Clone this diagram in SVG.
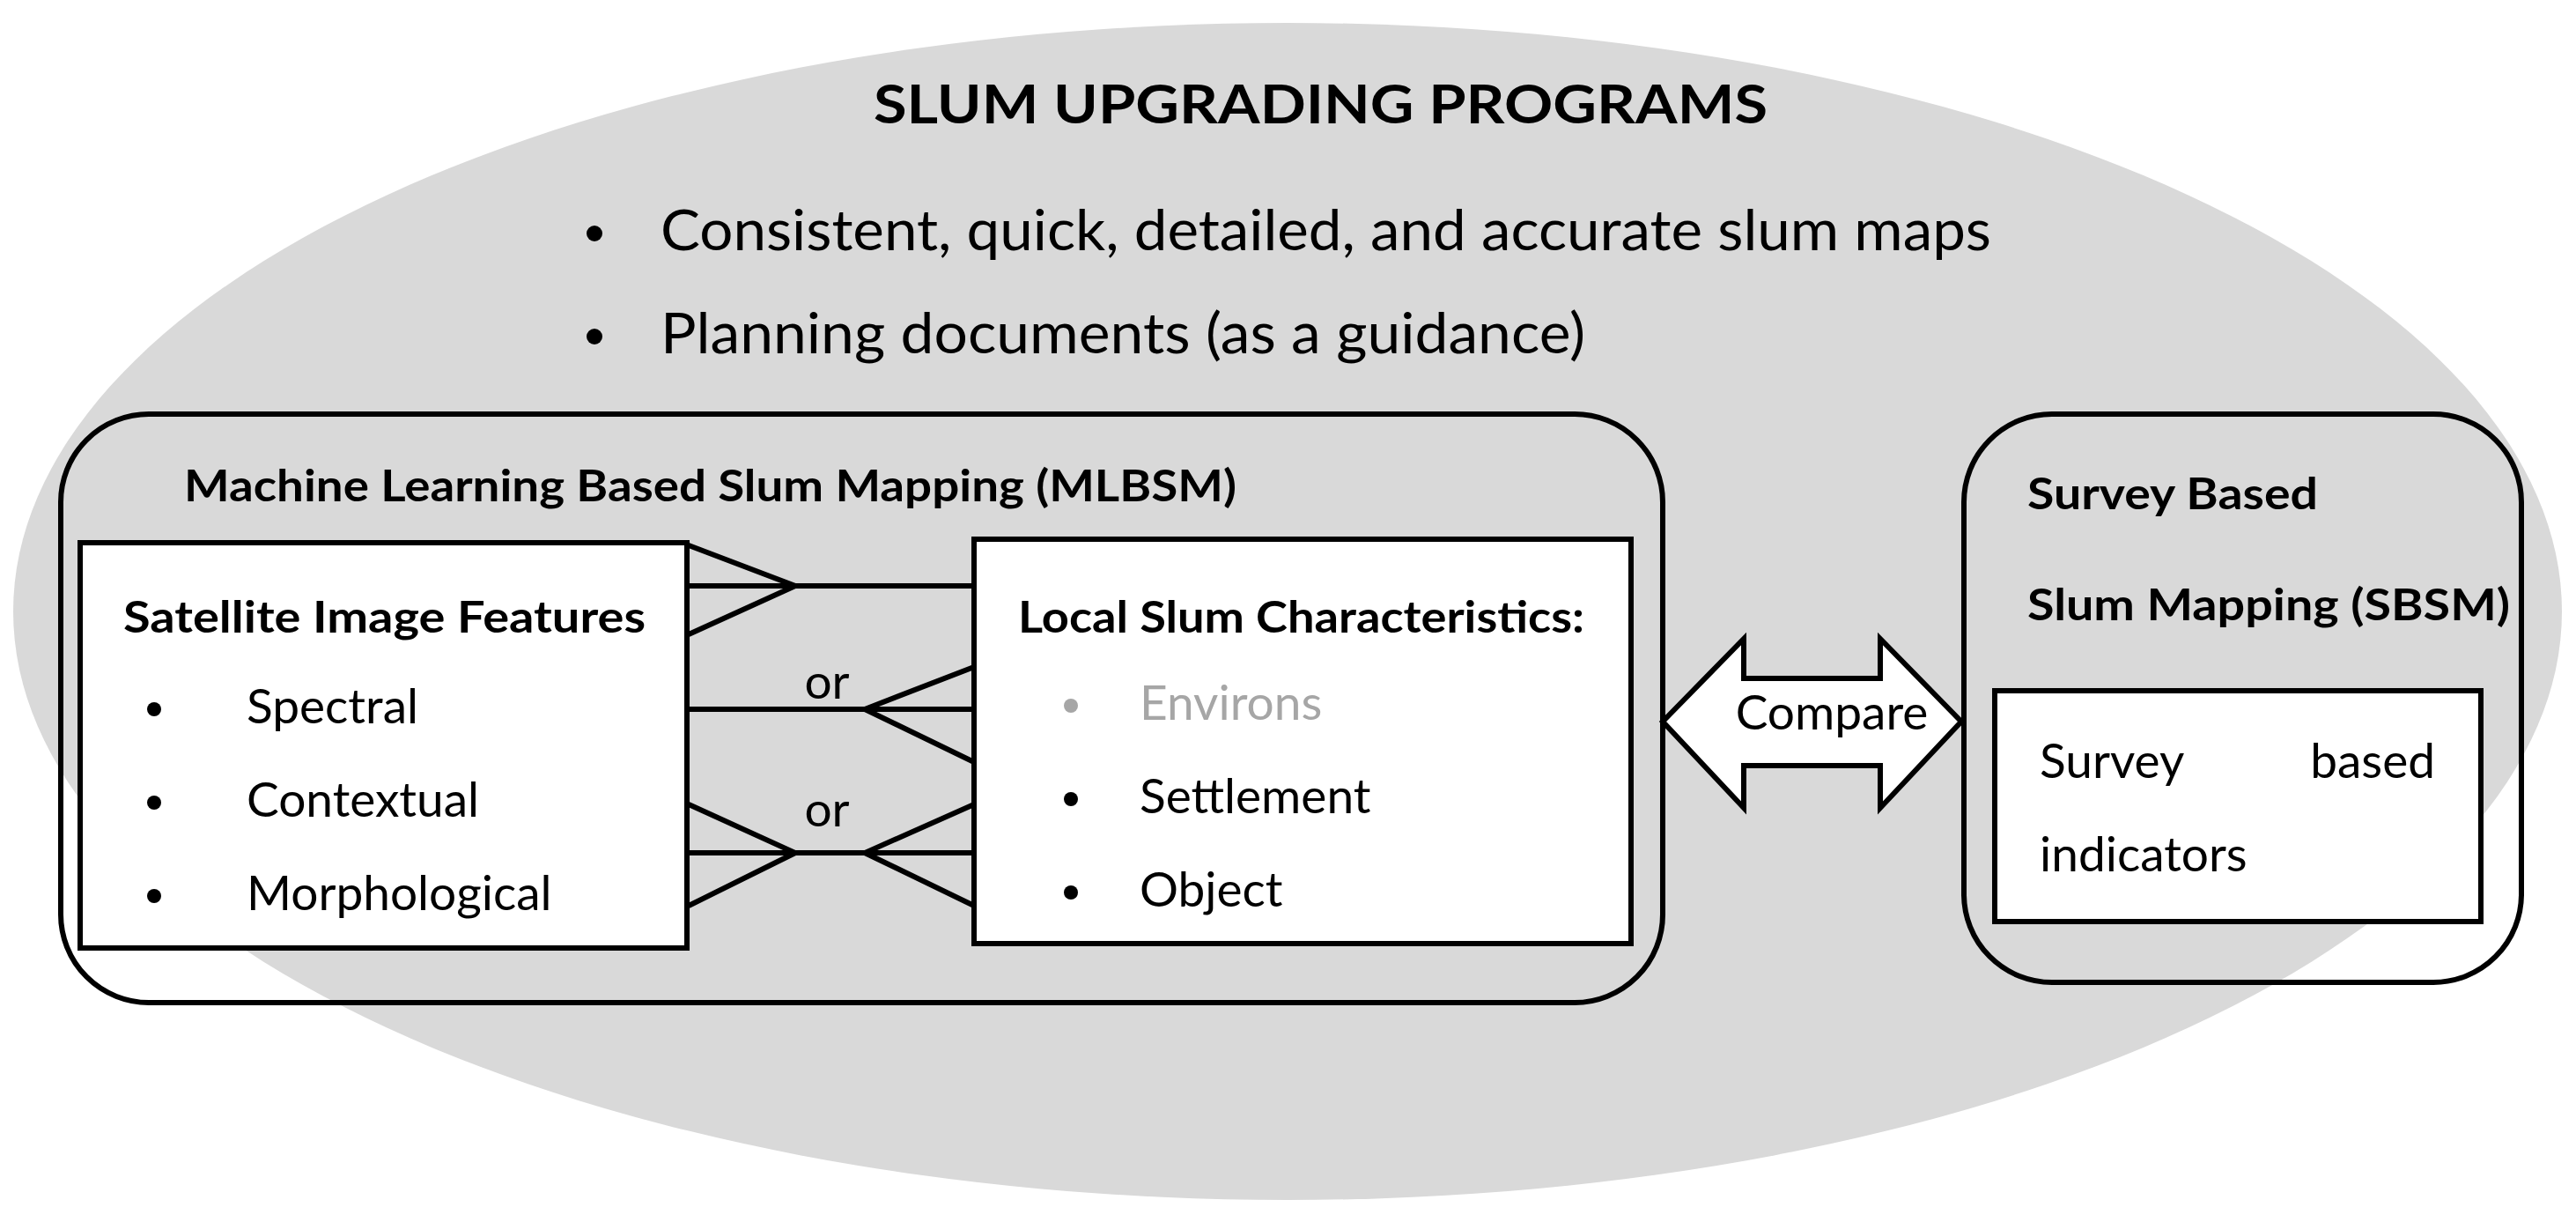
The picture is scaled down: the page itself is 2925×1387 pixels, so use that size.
<svg xmlns="http://www.w3.org/2000/svg" width="2925" height="1387" viewBox="0 0 2925 1387">
<style>
text{font-family:Lato,"Open Sans","Liberation Sans",sans-serif;fill:#000}
.b{font-weight:bold}
.h{font-size:50px}
.t{font-size:55px}
.box{fill:#fff;stroke:#000;stroke-width:6}
.rr{fill:none;stroke:#000;stroke-width:6}
.ln{stroke:#000;stroke-width:6;fill:none}
</style>
<rect width="2925" height="1387" fill="#fff"/>
<g id="background">
<ellipse cx="1462" cy="694" rx="1447" ry="668" fill="#d9d9d9"/>
<text x="992" y="140" class="b" font-size="62" textLength="1015" lengthAdjust="spacingAndGlyphs">SLUM UPGRADING PROGRAMS</text>
<circle cx="675" cy="265" r="9"/><text x="750" y="284" font-size="64" textLength="1511" lengthAdjust="spacingAndGlyphs">Consistent, quick, detailed, and accurate slum maps</text>
<circle cx="675" cy="382" r="9"/><text x="750" y="401" font-size="64" textLength="1050" lengthAdjust="spacingAndGlyphs">Planning documents (as a guidance)</text>
</g>
<g id="mlbsm">
<rect x="69" y="470" width="1819" height="668" rx="100" class="rr"/>
<text x="209" y="569" class="b h" textLength="1195" lengthAdjust="spacingAndGlyphs">Machine Learning Based Slum Mapping (MLBSM)</text>
</g>
<g id="satellite">
<rect x="91" y="616" width="689" height="460" class="box"/>
<text x="140" y="718" class="b h" textLength="593" lengthAdjust="spacingAndGlyphs">Satellite Image Features</text>
<circle cx="175" cy="805" r="8"/><text x="280" y="821" class="t">Spectral</text>
<circle cx="175" cy="911" r="8"/><text x="280" y="927" class="t">Contextual</text>
<circle cx="175" cy="1017" r="8"/><text x="280" y="1033" class="t">Morphological</text>
</g>
<g id="local">
<rect x="1106" y="612" width="746" height="459" class="box"/>
<text x="1156" y="718" class="b h" textLength="643" lengthAdjust="spacingAndGlyphs">Local Slum Characteristics:</text>
<circle cx="1216" cy="801" r="8" fill="#a6a6a6"/><text x="1294" y="817" class="t" style="fill:#a6a6a6">Environs</text>
<circle cx="1216" cy="907" r="8"/><text x="1294" y="923" class="t">Settlement</text>
<circle cx="1216" cy="1013" r="8"/><text x="1294" y="1029" class="t">Object</text>
</g>
<g id="connectors">
<path class="ln" d="M782 665H1106M782 619L903 665L782 720"/>
<path class="ln" d="M782 805H1106M1106 757L982 805L1106 865"/>
<text x="939" y="793" class="t" text-anchor="middle">or</text>
<path class="ln" d="M782 968H1106M782 913L903 968L782 1028M1106 913L982 968L1106 1028"/>
<text x="939" y="938" class="t" text-anchor="middle">or</text>
<polygon points="1888,819 1980,725 1980,770 2135,770 2135,725 2227,819 2135,917 2135,869 1980,869 1980,917" fill="#fff" stroke="#000" stroke-width="6"/>
<text x="2080" y="828" class="t" text-anchor="middle">Compare</text>
</g>
<g id="sbsm">
<rect x="2230" y="470" width="633" height="645" rx="100" class="rr"/>
<text x="2302" y="578" class="b h" textLength="330" lengthAdjust="spacingAndGlyphs">Survey Based</text>
<text x="2302" y="704" class="b h" textLength="548" lengthAdjust="spacingAndGlyphs">Slum Mapping (SBSM)</text>
</g>
<g id="survey">
<rect x="2265" y="784" width="552" height="262" class="box"/>
<text x="2316" y="883" class="t">Survey</text>
<text x="2765" y="883" class="t" text-anchor="end">based</text>
<text x="2316" y="989" class="t">indicators</text>
</g>
</svg>
